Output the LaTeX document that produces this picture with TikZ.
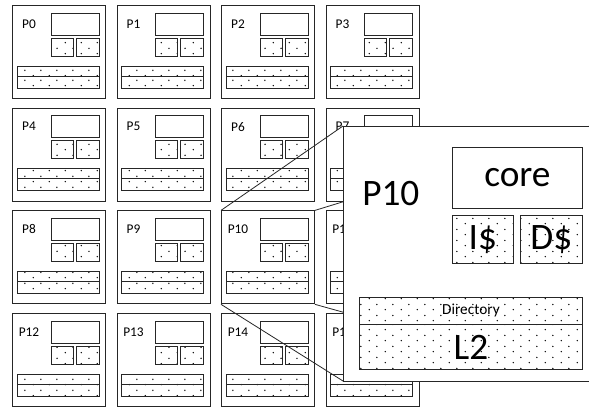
\documentclass[tikz,border=0pt]{standalone}
\usepackage{fontspec}
\setmainfont{Carlito}
\usetikzlibrary{patterns}

% sparse staggered dots, as in the cache boxes
\pgfdeclarepatternformonly{sparse dots}{\pgfpointorigin}{\pgfqpoint{12pt}{8pt}}{\pgfqpoint{12pt}{8pt}}{%
  \pgfpathcircle{\pgfqpoint{1pt}{1pt}}{0.6pt}%
  \pgfpathcircle{\pgfqpoint{7pt}{5pt}}{0.6pt}%
  \pgfusepath{fill}}

\begin{document}
\begin{tikzpicture}[
  x=0.75pt, y=-0.75pt,
  tile/.style={draw=black!85, line width=0.7pt, fill=white, anchor=north west, inner sep=0pt, minimum width=69.75pt, minimum height=69.75pt},
  part/.style={draw=black!85, line width=0.6pt},
  dotty/.style={part, pattern=sparse dots},
  plabel/.style={inner sep=0pt, font=\fontsize{10}{12}\selectfont},
  biglabel/.style={inner sep=0pt, font=\fontsize{28}{32}\selectfont},
  smalllabel/.style={inner sep=0pt, font=\fontsize{11.5}{13}\selectfont},
  zoomline/.style={draw=black!85, line width=0.6pt}
]
\useasboundingbox (0,0) rectangle (589,407);

% the 4x4 grid of tiles
\foreach \n in {0,...,15} {
  \pgfmathtruncatemacro{\col}{mod(\n,4)}
  \pgfmathtruncatemacro{\row}{floor(\n/4)}
  \begin{scope}[shift={(12+104.5*\col,5+102.7*\row)}]
    \node[tile] (p\n) at (0,0) {};
    \node[plabel] (p\n-name) at (17,19) {P\n};
    \draw[part] (39,8) rectangle (87,30);
    \draw[dotty] (39,33) rectangle (61,51);
    \draw[dotty] (64,33) rectangle (87,51);
    \draw[dotty] (5,61) rectangle (87,71);
    \draw[dotty] (5,71) rectangle (87,83);
  \end{scope}
}

% zoomed view of P10
\coordinate (zoom-nw) at (343,126);
\coordinate (zoom-ne) at (590,126);
\coordinate (zoom-sw) at (343,381);
\coordinate (zoom-se) at (590,381);
\draw[zoomline] (p10.north west) -- (zoom-nw);
\draw[zoomline] (p10.north east) -- (zoom-ne);
\draw[zoomline] (p10.south west) -- (zoom-sw);
\draw[zoomline] (p10.south east) -- (zoom-se);

\node[tile, minimum width=185.25pt, minimum height=191.25pt] (zoom) at (zoom-nw) {};
\begin{scope}[shift={(343,126)}]
  \node[biglabel, anchor=west] (zoom-name) at (19,68) {P10};
  \node[part, biglabel, anchor=north west, minimum width=97.5pt, minimum height=45.75pt] (core) at (109,21) {core};
  \node[dotty, biglabel, anchor=north west, minimum width=45.75pt, minimum height=36pt] (icache) at (109,89) {I\$};
  \node[dotty, biglabel, anchor=north west, minimum width=46.5pt, minimum height=36pt] (dcache) at (177,89) {D\$};
  \node[dotty, smalllabel, anchor=north west, minimum width=167.25pt, minimum height=20.25pt] (dir) at (16,171) {Directory};
  \node[dotty, biglabel, anchor=north west, minimum width=167.25pt, minimum height=33.75pt] (l2) at (16,198) {L2};
\end{scope}

\end{tikzpicture}
\end{document}
